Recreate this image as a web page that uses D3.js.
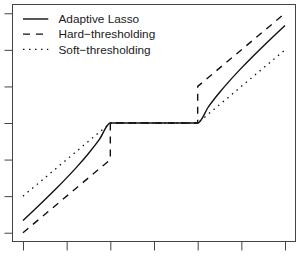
<!DOCTYPE html>
<html><head><meta charset="utf-8">
<script src="https://cdn.jsdelivr.net/npm/d3@7"></script>
<style>body{margin:0;background:#fff}svg{display:block}</style>
</head><body>
<script>
// Data
const xTicks = [-3, -2, -1, 0, 1, 2, 3];
const yTicks = [-3, -2, -1, 0, 1, 2, 3];
const lassoX = [-3, -2.75, -2.5, -2.25, -2, -1.75, -1.5, -1.25, -1, 0, 1, 1.25, 1.5, 1.75, 2, 2.25, 2.5, 2.75, 3];
const lassoY = [-2.667, -2.386, -2.1, -1.806, -1.5, -1.179, -0.833, -0.45, 0, 0, 0, 0.45, 0.833, 1.179, 1.5, 1.806, 2.1, 2.386, 2.667];
const hardX = [-3, -1, -1, 1, 1, 3];
const hardY = [-3, -1, 0, 0, 1, 3];
const softX = [-3, -1, 1, 3];
const softY = [-2, 0, 0, 2];
const legendLabels = ["Adaptive Lasso", "Hard\u2212thresholding", "Soft\u2212thresholding"];
const legendDash = [null, "7,6", "1.5,4.5"];

const W = 298, H = 259;
const box = {l: 12.5, r: 295.5, t: 4.5, b: 241.5};
const svg = d3.select("body").append("svg").attr("width", W).attr("height", H);
const x = d3.scaleLinear().domain([-3.24, 3.24]).range([box.l, box.r]);
const y = d3.scaleLinear().domain([-3.24, 3.24]).range([box.b, box.t]);

const gx = svg.append("g").attr("transform", `translate(0,${box.b})`)
  .call(d3.axisBottom(x).tickValues(xTicks).tickSize(9).tickFormat(""));
const gy = svg.append("g").attr("transform", `translate(${box.l},0)`)
  .call(d3.axisLeft(y).tickValues(yTicks).tickSize(8).tickFormat(""));
[gx, gy].forEach(g => {
  g.select(".domain").remove();
  g.selectAll("line").attr("stroke", "#444").attr("stroke-width", 1);
});

svg.append("rect").attr("x", box.l).attr("y", box.t)
  .attr("width", box.r - box.l).attr("height", box.b - box.t)
  .attr("fill", "none").attr("stroke", "#444").attr("stroke-width", 1);

const line = d3.line().x(d => x(d[0])).y(d => y(d[1]));
const lassoLine = d3.line().x(d => x(d[0])).y(d => y(d[1])).curve(d3.curveMonotoneX);

const series = [
  {pts: lassoX.map((v, i) => [v, lassoY[i]]), dash: legendDash[0], gen: lassoLine},
  {pts: hardX.map((v, i) => [v, hardY[i]]), dash: legendDash[1], gen: line},
  {pts: softX.map((v, i) => [v, softY[i]]), dash: legendDash[2], gen: line}
];
series.forEach((s, i) => {
  svg.append("path").attr("d", s.gen(s.pts)).attr("fill", "none")
    .attr("stroke", "#111").attr("stroke-width", i === 2 ? 1.3 : 1.4)
    .attr("stroke-dasharray", s.dash);
});

const lg = svg.append("g");
legendLabels.forEach((t, i) => {
  const yy = 19 + i * 15.15;
  lg.append("line").attr("x1", 23).attr("x2", 48.3).attr("y1", yy).attr("y2", yy)
    .attr("stroke", "#111").attr("stroke-width", i === 2 ? 1.3 : 1.4)
    .attr("stroke-dasharray", legendDash[i]);
  lg.append("text").attr("x", 58.5).attr("y", yy).attr("dy", "0.36em")
    .attr("font-family", "Liberation Sans, Arial, sans-serif").attr("font-size", 11.8)
    .attr("fill", "#1a1a1a").text(t);
});
</script>
</body></html>
